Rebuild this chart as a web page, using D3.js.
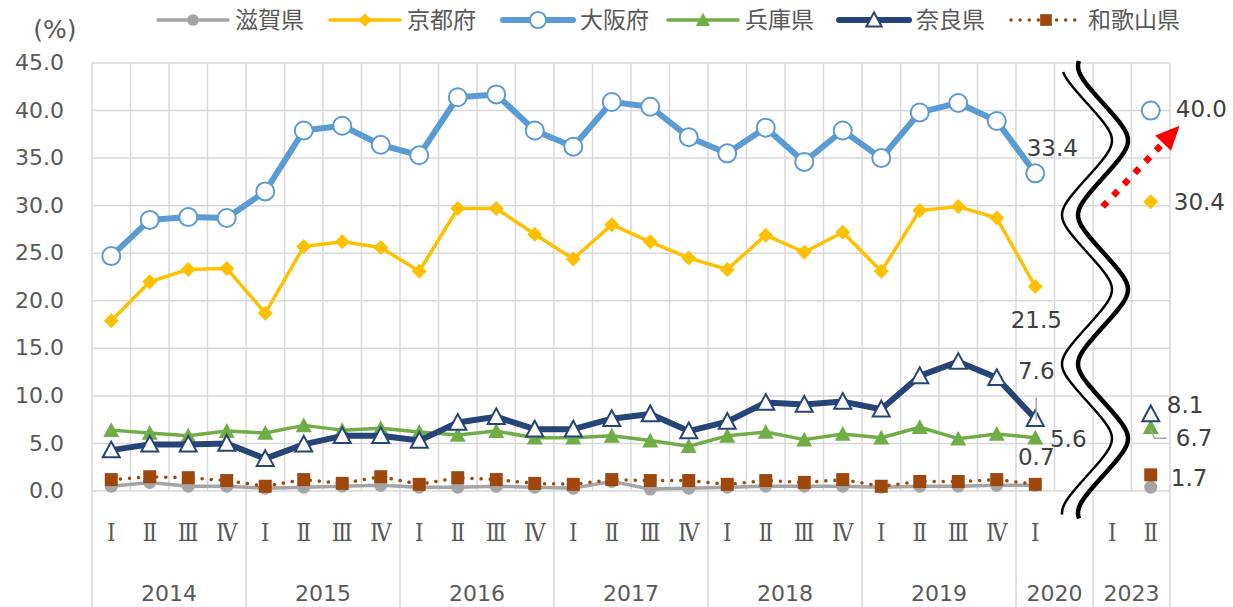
<!DOCTYPE html>
<html><head><meta charset="utf-8">
<script src="https://cdn.jsdelivr.net/npm/d3@7"></script>
<style>body{margin:0;background:#fff;}svg{display:block}</style>
</head><body>
<svg id="chart" width="1233" height="607"></svg>
<script>
// ---------- data ----------
const categories = [
  "2014Ⅰ","2014Ⅱ","2014Ⅲ","2014Ⅳ",
  "2015Ⅰ","2015Ⅱ","2015Ⅲ","2015Ⅳ",
  "2016Ⅰ","2016Ⅱ","2016Ⅲ","2016Ⅳ",
  "2017Ⅰ","2017Ⅱ","2017Ⅲ","2017Ⅳ",
  "2018Ⅰ","2018Ⅱ","2018Ⅲ","2018Ⅳ",
  "2019Ⅰ","2019Ⅱ","2019Ⅲ","2019Ⅳ",
  "2020Ⅰ","2020-","2023Ⅰ","2023Ⅱ"];
const quarterLabels = [
  "Ⅰ","Ⅱ","Ⅲ","Ⅳ","Ⅰ","Ⅱ","Ⅲ","Ⅳ","Ⅰ","Ⅱ","Ⅲ","Ⅳ",
  "Ⅰ","Ⅱ","Ⅲ","Ⅳ","Ⅰ","Ⅱ","Ⅲ","Ⅳ","Ⅰ","Ⅱ","Ⅲ","Ⅳ",
  "Ⅰ","","Ⅰ","Ⅱ"];
const yearLabels = ["2014","2015","2016","2017","2018","2019","2020","2023"];
const yearSpans  = [4,4,4,4,4,4,2,2];
const yTicks = [0,5,10,15,20,25,30,35,40,45];

const shiga    = [0.5,0.9,0.5,0.5, 0.3,0.4,0.5,0.6, 0.4,0.4,0.5,0.4, 0.3,1.0,0.2,0.3, 0.4,0.5,0.5,0.5, 0.4,0.5,0.5,0.6, 0.6, null,null, 0.4];
const kyoto    = [17.9,22.0,23.3,23.4, 18.7,25.7,26.2,25.6, 23.1,29.7,29.7,27.0, 24.4,28.0,26.2,24.5, 23.3,26.9,25.1,27.2, 23.1,29.5,29.9,28.7, 21.5, null,null, 30.4];
const osaka    = [24.7,28.5,28.8,28.7, 31.5,37.9,38.4,36.4, 35.3,41.4,41.7,37.9, 36.2,40.9,40.4,37.2, 35.5,38.2,34.6,37.9, 35.0,39.8,40.8,38.9, 33.4, null,null, 40.0];
const hyogo    = [6.4,6.1,5.8,6.3, 6.1,6.9,6.4,6.6, 6.2,5.9,6.3,5.6, 5.6,5.8,5.3,4.7, 5.8,6.2,5.4,6.0, 5.6,6.7,5.5,6.0, 5.6, null,null, 6.7];
const nara     = [4.3,4.9,4.9,5.0, 3.4,4.9,5.8,5.8, 5.3,7.2,7.8,6.5, 6.5,7.6,8.1,6.3, 7.3,9.3,9.1,9.4, 8.6,12.1,13.6,11.9, 7.6, null,null, 8.1];
const wakayama = [1.2,1.5,1.4,1.1, 0.5,1.2,0.8,1.5, 0.7,1.4,1.2,0.8, 0.7,1.2,1.1,1.1, 0.7,1.1,0.9,1.2, 0.5,1.0,1.0,1.2, 0.7, null,null, 1.7];

const seriesNames = ["滋賀県","京都府","大阪府","兵庫県","奈良県","和歌山県"];
const seriesValues = [shiga, kyoto, osaka, hyogo, nara, wakayama];

// labelled points: [series index, category index]
const labelled = [[2,24],[2,27],[1,24],[1,27],[4,24],[3,24],[5,24],[4,27],[3,27],[5,27]];

// ---------- styles ----------
const styles = [
  {color:"#a5a5a5", width:3.5, marker:"circle",   size:6.5, fill:"#a5a5a5", dash:null},
  {color:"#ffc000", width:3.5, marker:"diamond",  size:7.5, fill:"#ffc000", dash:null},
  {color:"#5b9bd5", width:6,   marker:"circle",   size:9,   fill:"#ffffff", dash:null, stroke:2},
  {color:"#70ad47", width:3.5, marker:"triangle", size:8,   fill:"#70ad47", dash:null},
  {color:"#264478", width:6,   marker:"triangle", size:8.5, fill:"#ffffff", dash:null, stroke:2},
  {color:"#9e480e", width:3.5, marker:"square",   size:6.5, fill:"#9e480e", dash:"0.1,9"}
];

const W = 1233, H = 607;
const L = 92, R = 1170, T = 63, B = 491;
const svg = d3.select("#chart");

const x = d3.scaleBand().domain(categories).range([L, R]).paddingInner(0).paddingOuter(0);
const xi = d3.scaleLinear().domain([0, categories.length]).range([L, R]);
const y = d3.scaleLinear().domain([0, 45]).range([B, T]);
const cx = i => x(categories[i]) + x.bandwidth()/2;

const numFont = "'DejaVu Sans', Verdana, sans-serif";
const jpFont = "'Noto Sans CJK JP', 'Noto Sans', sans-serif";
const romanFont = "'DejaVu Serif Condensed', 'DejaVu Serif', 'Noto Sans CJK JP', serif";

// ---------- grid ----------
const grid = svg.append("g");
grid.selectAll("line.h").data(yTicks).join("line")
  .attr("x1", L).attr("x2", R).attr("y1", d => y(d)).attr("y2", d => y(d))
  .attr("stroke", "#d9d9d9").attr("stroke-width", 1.5);
const bounds = d3.range(categories.length + 1);
grid.selectAll("line.v").data(bounds).join("line")
  .attr("x1", d => xi(d)).attr("x2", d => xi(d))
  .attr("y1", T).attr("y2", B)
  .attr("stroke", "#d9d9d9").attr("stroke-width", 1.5);
const yearBounds = [0];
yearSpans.forEach((s, k) => yearBounds.push(yearBounds[k] + s));
grid.selectAll("line.ys").data(yearBounds).join("line")
  .attr("x1", d => xi(d)).attr("x2", d => xi(d))
  .attr("y1", B).attr("y2", H)
  .attr("stroke", "#d9d9d9").attr("stroke-width", 1.5);

// ---------- y axis ----------
const yAxis = d3.axisLeft(y).tickValues(yTicks).tickFormat(d => d.toFixed(1)).tickSize(0).tickPadding(28);
const ya = svg.append("g").attr("transform", `translate(${L},0)`).call(yAxis);
ya.select(".domain").remove();
ya.selectAll("text").attr("font-family", numFont).attr("font-size", 22).attr("fill", "#595959").attr("dy", "0.3em");
svg.append("text").attr("x", 55).attr("y", 38).attr("text-anchor", "middle")
  .attr("font-family", numFont).attr("font-size", 25)
  .attr("fill", "#595959").text("(%)");

// ---------- x axis labels ----------
svg.append("g").selectAll("text").data(quarterLabels).join("text")
  .attr("x", (d, i) => cx(i)).attr("y", 541).attr("text-anchor", "middle")
  .attr("font-family", romanFont).attr("font-size", 24).attr("fill", "#595959").text(d => d);
svg.append("g").selectAll("text").data(yearLabels).join("text")
  .attr("x", (d, k) => (xi(yearBounds[k]) + xi(yearBounds[k+1])) / 2).attr("y", 601)
  .attr("text-anchor", "middle").attr("font-family", numFont).attr("font-size", 22)
  .attr("fill", "#595959").text(d => d);

// ---------- markers ----------
function markerPath(type, s) {
  if (type === "circle") return d3.symbol(d3.symbolCircle, Math.PI * s * s)();
  if (type === "diamond") return `M0,${-s}L${s},0L0,${s}L${-s},0Z`;
  if (type === "square") return `M${-s},${-s}H${s}V${s}H${-s}Z`;
  if (type === "triangle") return `M0,${-s}L${s},${s*0.85}L${-s},${s*0.85}Z`;
}

// ---------- series ----------
const line = d3.line().defined(d => d.v != null).x(d => cx(d.i)).y(d => y(d.v));
seriesValues.forEach((vals, si) => {
  const st = styles[si];
  const pts = vals.map((v, i) => ({v, i}));
  const g = svg.append("g");
  g.append("path").datum(pts).attr("d", line).attr("fill", "none")
    .attr("stroke", st.color).attr("stroke-width", st.width)
    .attr("stroke-linejoin", "round")
    .attr("stroke-linecap", st.dash ? "round" : "butt")
    .attr("stroke-dasharray", st.dash);
  g.selectAll("path.m").data(pts.filter(d => d.v != null)).join("path")
    .attr("transform", d => `translate(${cx(d.i)},${y(d.v)})`)
    .attr("d", markerPath(st.marker, st.size))
    .attr("fill", st.fill)
    .attr("stroke", st.stroke ? st.color : "none")
    .attr("stroke-width", st.stroke || 0);
});

// ---------- wave break ----------
const waveCx = xi(26) - 6, waveA = 25, waveP = 74.5, waveY0 = 66, waveGap = 16;
const kk = 0.82, norm = Math.asin(kk);
const waveX = v => waveCx - waveA * Math.asin(kk * Math.cos(Math.PI * (v - waveY0) / waveP)) / norm;
const ysL = d3.range(72, 515.1, 1.5);
const ysR = d3.range(61, 519.1, 1.5);
const waveL = ysL.map(v => [waveX(v), v]);
const waveR = ysR.map(v => [waveX(v) + waveGap, v]);
svg.append("path").attr("d", "M" + waveL.map(p => p.join(",")).join("L") + "L" + waveR.slice().reverse().map(p => p.join(",")).join("L") + "Z")
  .attr("fill", "#ffffff");
svg.append("path").attr("d", d3.line().curve(d3.curveBasis)(waveL)).attr("fill", "none").attr("stroke", "#000").attr("stroke-width", 2.5);
svg.append("path").attr("d", d3.line().curve(d3.curveBasis)(waveR)).attr("fill", "none").attr("stroke", "#000").attr("stroke-width", 4.5);

// ---------- red arrow ----------
const aS = [xi(25.75 + 0.5), y(29.9)];
const aT = [xi(27.75 + 0.5), y(38.4)];
const dx = aT[0] - aS[0], dy = aT[1] - aS[1], len = Math.hypot(dx, dy);
const u = [dx/len, dy/len], n = [-u[1], u[0]];
const hl = 24, hw = 11;
const aB = [aT[0] - hl*u[0], aT[1] - hl*u[1]];
svg.append("line").attr("x1", aS[0]).attr("y1", aS[1]).attr("x2", aB[0]).attr("y2", aB[1])
  .attr("stroke", "#ff0000").attr("stroke-width", 6.5).attr("stroke-dasharray", "6.5,9");
svg.append("path").attr("d", `M${aT[0]},${aT[1]}L${aB[0]+hw*n[0]},${aB[1]+hw*n[1]}L${aB[0]-hw*n[0]},${aB[1]-hw*n[1]}Z`)
  .attr("fill", "#ff0000");

// ---------- data labels ----------
const labelOffsets = {
  "2,24": [17, -26, "middle"], "2,27": [25, -2, "start"],
  "1,24": [1, 33, "middle"],   "1,27": [23, 0, "start"],
  "4,24": [1, -48, "middle"],  "3,24": [33, 1, "middle"],
  "5,24": [1, -28, "middle"],  "4,27": [16, -9, "start"],
  "3,27": [25, 10, "start"],   "5,27": [20, 3, "start"]
};
const lg = svg.append("g");
labelled.forEach(([si, ci]) => {
  const v = seriesValues[si][ci];
  const o = labelOffsets[si + "," + ci];
  lg.append("text").attr("x", cx(ci) + o[0]).attr("y", y(v) + o[1]).attr("dy", "0.36em")
    .attr("text-anchor", o[2]).attr("font-family", numFont).attr("font-size", 23)
    .attr("fill", "#404040").text(v.toFixed(1));
});
lg.append("line").attr("x1", cx(24) + 1).attr("x2", cx(24) + 1)
  .attr("y1", y(nara[24]) - 21).attr("y2", y(nara[24]) + 1)
  .attr("stroke", "#a6a6a6").attr("stroke-width", 1.5);
lg.append("path").attr("d", `M${cx(27)},${y(hyogo[27]) + 3}L${cx(27)+4},${y(hyogo[27]) + 11}H${cx(27)+16}`)
  .attr("fill", "none").attr("stroke", "#a6a6a6").attr("stroke-width", 1.5);

// ---------- legend ----------
const legendX = [158, 330, 503, 668, 839, 1011];
const legY = 20;
const leg = svg.append("g");
seriesNames.forEach((name, si) => {
  const st = styles[si];
  const x0 = legendX[si];
  leg.append("line").attr("x1", x0).attr("x2", x0 + 70).attr("y1", legY).attr("y2", legY)
    .attr("stroke", st.color).attr("stroke-width", st.width)
    .attr("stroke-linecap", "round").attr("stroke-dasharray", st.dash);
  leg.append("path").attr("transform", `translate(${x0 + 35},${legY})`)
    .attr("d", markerPath(st.marker, st.size * 0.9)).attr("fill", st.fill)
    .attr("stroke", st.stroke ? st.color : "none").attr("stroke-width", st.stroke || 0);
  leg.append("text").attr("x", x0 + 77).attr("y", legY).attr("dy", "0.36em")
    .attr("font-family", jpFont).attr("font-size", 23).attr("fill", "#595959").text(name);
});
</script>
</body></html>
